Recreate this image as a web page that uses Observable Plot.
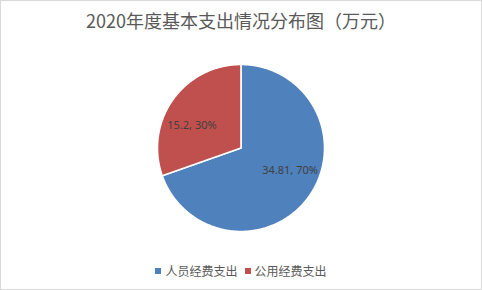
<!DOCTYPE html>
<html>
<head>
<meta charset="utf-8">
<script src="https://cdn.jsdelivr.net/npm/d3@7"></script>
<script src="https://cdn.jsdelivr.net/npm/@observablehq/plot@0.6"></script>
<style>
  html, body { margin: 0; padding: 0; background: #fff; }
  #chart {
    width: 482px; height: 290px; box-sizing: border-box;
    border: 1px solid #d9d9d9; background: #fff; overflow: hidden;
    font-family: "Noto Sans CJK SC", "Noto Sans", sans-serif;
  }
  #title {
    height: 40px; line-height: 38px; text-align: center;
    font-size: 18px; color: #595959; white-space: nowrap;
  }
  #plot svg { display: block; }
  #legend {
    height: 36px; line-height: 32px; text-align: center;
    font-size: 12px; color: #595959; white-space: nowrap;
  }
  .item { display: inline-flex; align-items: center; margin: 0 3.5px; }
  .sw { width: 6px; height: 6px; margin-right: 4px; display: inline-block; }
</style>
</head>
<body>
<div id="chart">
  <div id="title"></div>
  <div id="plot"></div>
  <div id="legend"></div>
</div>
<script>
const titleText = "2020年度基本支出情况分布图（万元）";
const categories = ["人员经费支出", "公用经费支出"];
const values = [34.81, 15.2];
const colors = ["#4F81BD", "#C0504D"];

document.getElementById("title").textContent = titleText;

const W = 480, H = 212, R = 83.5, CX = 239.5, CY = 106.5;

const total = d3.sum(values);
const arcs = d3.pie().sort(null).value(d => d.value)(
  categories.map((name, i) => ({name, value: values[i]}))
);

// slice outlines in unit-radius space
const slicePts = [];
for (const a of arcs) {
  const n = Math.max(2, Math.ceil((a.endAngle - a.startAngle) / (Math.PI / 360)));
  slicePts.push({name: a.data.name, x: 0, y: 0});
  for (let k = 0; k <= n; k++) {
    const t = a.startAngle + (a.endAngle - a.startAngle) * k / n;
    slicePts.push({name: a.data.name, x: Math.sin(t), y: -Math.cos(t)});
  }
  slicePts.push({name: a.data.name, x: 0, y: 0});
}

const labels = arcs.map(a => {
  const m = (a.startAngle + a.endAngle) / 2;
  return {
    x: Math.sin(m) * 0.72,
    y: -Math.cos(m) * 0.47,
    text: `${a.data.value}, ${Math.round(a.data.value / total * 100)}%`
  };
});

const plot = Plot.plot({
  width: W, height: H,
  margin: 0,
  x: {domain: [-CX / R, (W - CX) / R], range: [0, W], axis: null},
  y: {domain: [-CY / R, (H - CY) / R], range: [0, H], axis: null},
  color: {domain: categories, range: colors},
  style: {background: "transparent"},
  marks: [
    Plot.line(slicePts, {
      x: "x", y: "y", z: "name", fill: "name",
      stroke: "white", strokeWidth: 1.6, curve: "linear"
    }),
    Plot.text(labels, {
      x: "x", y: "y", text: "text",
      fill: "#404040", fontSize: 11,
      fontFamily: "'Noto Sans', sans-serif"
    })
  ]
});
document.getElementById("plot").appendChild(plot);

const legend = document.getElementById("legend");
categories.forEach((c, i) => {
  const item = document.createElement("span");
  item.className = "item";
  const sw = document.createElement("span");
  sw.className = "sw";
  sw.style.background = colors[i];
  const tx = document.createElement("span");
  tx.textContent = c;
  item.appendChild(sw);
  item.appendChild(tx);
  legend.appendChild(item);
});
</script>
</body>
</html>
